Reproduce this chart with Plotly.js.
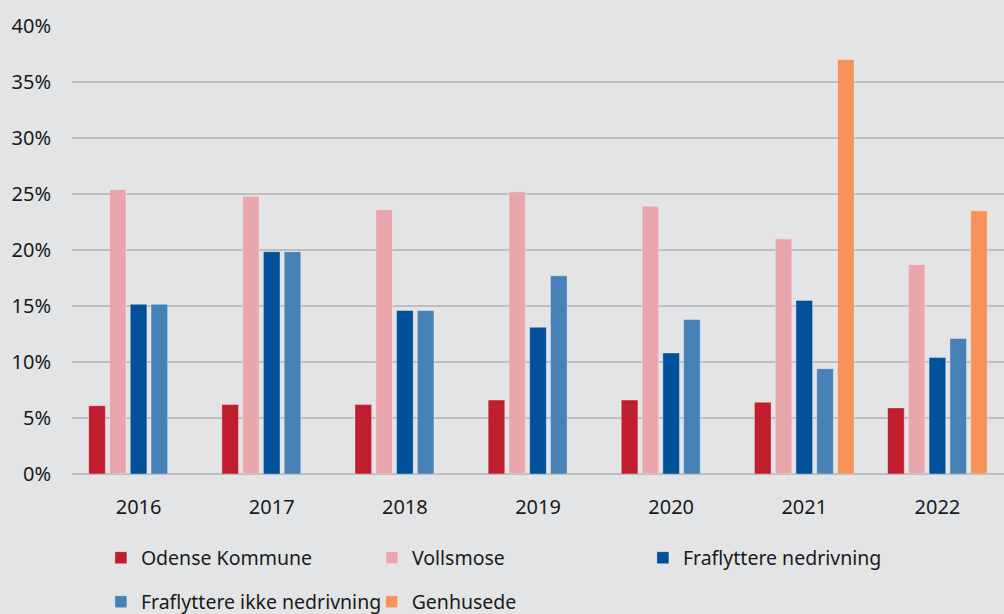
<!DOCTYPE html>
<html>
<head>
<meta charset="utf-8">
<script src="https://cdn.plot.ly/plotly-3.0.1.min.js"></script>
<style>
html,body{margin:0;padding:0;background:#E3E4E6;}
#chart{width:1004px;height:614px;}
</style>
</head>
<body>
<div id="chart"></div>
<script>
const years = ["2016","2017","2018","2019","2020","2021","2022"];
const odense = [6.1, 6.2, 6.2, 6.6, 6.6, 6.4, 5.9];
const vollsmose = [25.4, 24.8, 23.6, 25.2, 23.9, 21.0, 18.7];
const nedrivning = [15.15, 19.85, 14.6, 13.1, 10.8, 15.5, 10.4];
const ikkeNedrivning = [15.15, 19.85, 14.6, 17.7, 13.8, 9.4, 12.1];
const genhusede = [null, null, null, null, null, 37.0, 23.5];

const seriesNames = ["Odense Kommune","Vollsmose","Fraflyttere nedrivning","Fraflyttere ikke nedrivning","Genhusede"];
const seriesColors = ["#BE1E2D","#E8A7AD","#00509A","#4881B5","#F5935A"];
const seriesData = [odense, vollsmose, nedrivning, ikkeNedrivning, genhusede];
const seriesLegend = ["legend","legend","legend","legend2","legend3"];

const traces = seriesData.map((vals, i) => ({
  type: "bar",
  name: seriesNames[i],
  x: years,
  y: vals,
  legend: seriesLegend[i],
  marker: {color: seriesColors[i], line: {color: "rgba(255,255,255,0.35)", width: 1}},
  hoverinfo: "x+y+name"
}));

const font = {family: "Noto Sans, Open Sans, sans-serif", size: 20, color: "#1a1a1a"};
const legendFont = {family: "Noto Sans, Open Sans, sans-serif", size: 19.5, color: "#1a1a1a"};

function legendCfg(x, y, ew) {
  const cfg = {
    orientation: "h",
    x: x, xanchor: "left",
    y: y, yanchor: "middle",
    bgcolor: "rgba(0,0,0,0)",
    font: legendFont,
    itemwidth: 30,
    traceorder: "normal"
  };
  if (ew) cfg.entrywidth = ew;
  return cfg;
}

const layout = {
  width: 1004, height: 614,
  paper_bgcolor: "#E3E4E6",
  plot_bgcolor: "#E3E4E6",
  font: font,
  margin: {l: 72, r: 0, t: 26, b: 140, autoexpand: false},
  barmode: "group",
  bargap: 0.22,
  bargroupgap: 0.2,
  showlegend: true,
  xaxis: {
    type: "category",
    showgrid: false,
    showline: false,
    zeroline: false,
    ticks: "",
    tickfont: font,
    ticklabelstandoff: 19
  },
  yaxis: {
    range: [0, 40],
    dtick: 5,
    ticksuffix: "%",
    showgrid: true,
    gridcolor: "#BDBEC0",
    gridwidth: 1.5,
    zeroline: true,
    zerolinecolor: "#BDBEC0",
    zerolinewidth: 1.5,
    showline: false,
    ticks: "",
    tickfont: font,
    ticklabelstandoff: 20,
    fixedrange: true
  },
  legend: legendCfg(0.031, -0.1875, 226),
  legend2: legendCfg(0.031, -0.2857),
  legend3: legendCfg(0.3215, -0.2857)
};

Plotly.newPlot("chart", traces, layout, {displayModeBar: false, staticPlot: true});
</script>
</body>
</html>
